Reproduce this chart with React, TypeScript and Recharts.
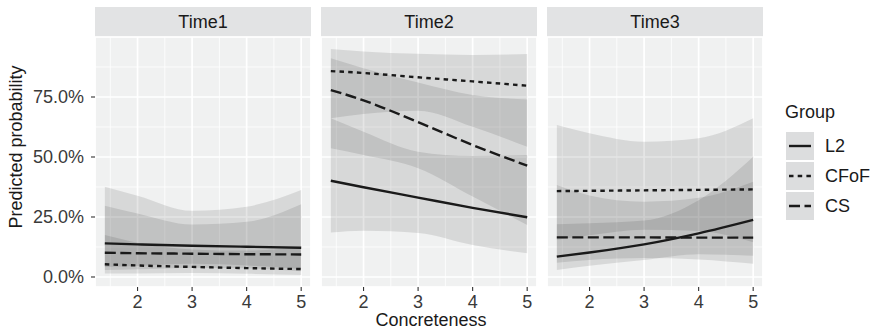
import { ComposedChart, Area, Line, XAxis, YAxis, CartesianGrid } from 'recharts';

const FONT = '"Liberation Sans", Arial, Helvetica, sans-serif';
const PANEL_BG = '#F0F1F1';
const STRIP_BG = '#E2E3E4';
const INK = '#1a1a1a';

// x values where the fitted curves were read
const concreteness = [1.4, 2, 3, 4, 5];
const xTicks = [2, 3, 4, 5];
const xMinor = [1.5, 2.5, 3.5, 4.5];
const yTicks = [0, 25, 50, 75];
const yMinor = [12.5, 37.5, 62.5, 87.5];

// Time1 (percent)
const t1L2 = [14.0, 13.6, 13.0, 12.6, 12.2];
const t1L2Lo = [4.2, 4.6, 5.5, 4.8, 3.3];
const t1L2Hi = [37.6, 33.9, 27.6, 29.3, 36.2];
const t1CFoF = [5.3, 4.8, 4.2, 3.7, 3.3];
const t1CFoFLo = [1.5, 1.5, 1.7, 1.3, 0.8];
const t1CFoFHi = [17.5, 14.3, 11.5, 11.0, 12.4];
const t1CS = [10.1, 9.9, 9.7, 9.5, 9.4];
const t1CSLo = [2.9, 3.2, 3.9, 3.6, 2.4];
const t1CSHi = [29.7, 26.5, 21.9, 23.0, 30.3];

// Time2
const t2L2 = [40.1, 37.4, 33.1, 28.8, 24.9];
const t2L2Lo = [18.5, 19.3, 18.3, 13.3, 9.9];
const t2L2Hi = [66.1, 60.5, 52.2, 50.4, 50.8];
const t2CFoF = [85.8, 85.0, 83.2, 81.5, 79.7];
const t2CFoFLo = [66.1, 67.9, 69.3, 62.6, 54.3];
const t2CFoFHi = [95.0, 94.0, 93.0, 92.5, 92.9];
const t2CS = [77.9, 73.6, 64.5, 55.0, 46.4];
const t2CSLo = [53.6, 50.8, 45.3, 33.5, 21.7];
const t2CSHi = [91.1, 87.0, 81.0, 75.8, 74.0];

// Time3
const t3L2 = [8.5, 10.2, 13.6, 18.2, 23.8];
const t3L2Lo = [2.9, 4.7, 7.1, 9.5, 8.8];
const t3L2Hi = [22.0, 22.4, 23.5, 32.0, 50.1];
const t3CFoF = [35.8, 35.9, 36.1, 36.3, 36.5];
const t3CFoFLo = [15.5, 17.4, 19.7, 19.2, 14.5];
const t3CFoFHi = [63.3, 59.9, 56.4, 57.8, 66.1];
const t3CS = [16.5, 16.5, 16.5, 16.4, 16.4];
const t3CSLo = [5.9, 7.1, 7.9, 7.3, 5.5];
const t3CSHi = [38.3, 34.0, 31.4, 33.0, 39.7];

const groups = ['L2', 'CFoF', 'CS'];
const dashes: Record<string, string | undefined> = {
  L2: undefined,
  CFoF: '4.5 4.2',
  CS: '11 4.5',
};

const buildRows = (sets: number[][]) =>
  concreteness.map((x, i) => ({
    x,
    L2: sets[0][i],
    L2band: [sets[1][i], sets[2][i]],
    CFoF: sets[3][i],
    CFoFband: [sets[4][i], sets[5][i]],
    CS: sets[6][i],
    CSband: [sets[7][i], sets[8][i]],
  }));

const panels = [
  {
    title: 'Time1',
    left: 95,
    rows: buildRows([t1L2, t1L2Lo, t1L2Hi, t1CFoF, t1CFoFLo, t1CFoFHi, t1CS, t1CSLo, t1CSHi]),
  },
  {
    title: 'Time2',
    left: 321,
    rows: buildRows([t2L2, t2L2Lo, t2L2Hi, t2CFoF, t2CFoFLo, t2CFoFHi, t2CS, t2CSLo, t2CSHi]),
  },
  {
    title: 'Time3',
    left: 547,
    rows: buildRows([t3L2, t3L2Lo, t3L2Hi, t3CFoF, t3CFoFLo, t3CFoFHi, t3CS, t3CSLo, t3CSHi]),
  },
];

const PANEL_W = 216;
const Y_AXIS_W = 95;
const PLOT_TOP = 37;
const PLOT_BOTTOM = 287;
const X_DOMAIN: [number, number] = [1.22, 5.18];
const Y_DOMAIN: [number, number] = [-4.17, 100];

const Panel = ({ title, left, rows, showY }: any) => {
  const chartLeft = showY ? left - Y_AXIS_W : left;
  const width = showY ? PANEL_W + Y_AXIS_W : PANEL_W;
  return (
    <>
      <div
        style={{
          position: 'absolute',
          left,
          top: 7,
          width: PANEL_W,
          height: 30,
          background: STRIP_BG,
          color: INK,
          fontSize: 18,
          lineHeight: '30px',
          textAlign: 'center',
        }}
      >
        {title}
      </div>
      <div style={{ position: 'absolute', left: chartLeft, top: 0 }}>
        <ComposedChart
          width={width}
          height={333}
          data={rows}
          margin={{ top: PLOT_TOP, right: 0, left: 0, bottom: 333 - PLOT_BOTTOM - 22 }}
        >
          <CartesianGrid
            fill={PANEL_BG}
            stroke="#ffffff"
            strokeWidth={0.8}
            xAxisId="minor"
            yAxisId="minor"
          />
          <CartesianGrid stroke="#ffffff" strokeWidth={1.7} fillOpacity={0} />
          <XAxis
            dataKey="x"
            type="number"
            domain={X_DOMAIN}
            allowDataOverflow
            ticks={xTicks}
            height={22}
            axisLine={false}
            tickSize={4}
            tickMargin={4}
            tickLine={{ stroke: '#333333', strokeWidth: 1.1 }}
            tick={{ fill: '#3a3a3a', fontSize: 18, fontFamily: FONT }}
          />
          <XAxis
            xAxisId="minor"
            dataKey="x"
            type="number"
            domain={X_DOMAIN}
            allowDataOverflow
            ticks={xMinor}
            hide
          />
          <YAxis
            type="number"
            domain={Y_DOMAIN}
            allowDataOverflow
            ticks={yTicks}
            width={Y_AXIS_W}
            hide={!showY}
            axisLine={false}
            tickSize={4}
            tickMargin={7}
            tickLine={{ stroke: '#333333', strokeWidth: 1.1 }}
            tickFormatter={(v: number) => `${v.toFixed(1)}%`}
            tick={{ fill: '#3a3a3a', fontSize: 18, fontFamily: FONT }}
          />
          <YAxis
            yAxisId="minor"
            type="number"
            domain={Y_DOMAIN}
            allowDataOverflow
            ticks={yMinor}
            hide
          />
          {groups.map((g) => (
            <Area
              key={`${g}-band`}
              dataKey={`${g}band`}
              type="monotone"
              fill="#000000"
              fillOpacity={0.1}
              stroke="none"
              isAnimationActive={false}
              activeDot={false}
            />
          ))}
          {groups.map((g) => (
            <Line
              key={g}
              dataKey={g}
              type="monotone"
              stroke={INK}
              strokeWidth={2.4}
              strokeDasharray={dashes[g]}
              dot={false}
              activeDot={false}
              isAnimationActive={false}
            />
          ))}
        </ComposedChart>
      </div>
    </>
  );
};

const LegendKey = ({ dash }: { dash?: string }) => (
  <svg width={28} height={28} style={{ display: 'block', background: '#DCDDDE' }}>
    <line x1={3} y1={14} x2={25} y2={14} stroke={INK} strokeWidth={2.4} strokeDasharray={dash} />
  </svg>
);

export default function App() {
  return (
    <div
      style={{
        position: 'absolute',
        left: 0,
        top: 0,
        width: 874,
        height: 333,
        background: '#ffffff',
        fontFamily: FONT,
        overflow: 'hidden',
      }}
    >
      {panels.map((p, i) => (
        <Panel key={p.title} {...p} showY={i === 0} />
      ))}

      {/* y axis title */}
      <div
        style={{
          position: 'absolute',
          left: 16 - 150,
          top: 147 - 10,
          width: 300,
          height: 20,
          lineHeight: '20px',
          textAlign: 'center',
          fontSize: 18,
          color: INK,
          transform: 'rotate(-90deg)',
        }}
      >
        Predicted probability
      </div>

      {/* x axis title */}
      <div
        style={{
          position: 'absolute',
          left: 431 - 100,
          top: 313,
          width: 200,
          height: 14,
          lineHeight: '14px',
          textAlign: 'center',
          fontSize: 18,
          color: INK,
        }}
      >
        Concreteness
      </div>

      {/* legend */}
      <div style={{ position: 'absolute', left: 785, top: 102, fontSize: 18, color: INK, lineHeight: '20px' }}>
        Group
      </div>
      {groups.map((g, i) => (
        <div
          key={g}
          style={{
            position: 'absolute',
            left: 786,
            top: 132 + i * 30,
            height: 28,
            display: 'flex',
            alignItems: 'center',
          }}
        >
          <LegendKey dash={dashes[g]} />
          <span style={{ marginLeft: 11, fontSize: 18, color: INK }}>{g}</span>
        </div>
      ))}
    </div>
  );
}
